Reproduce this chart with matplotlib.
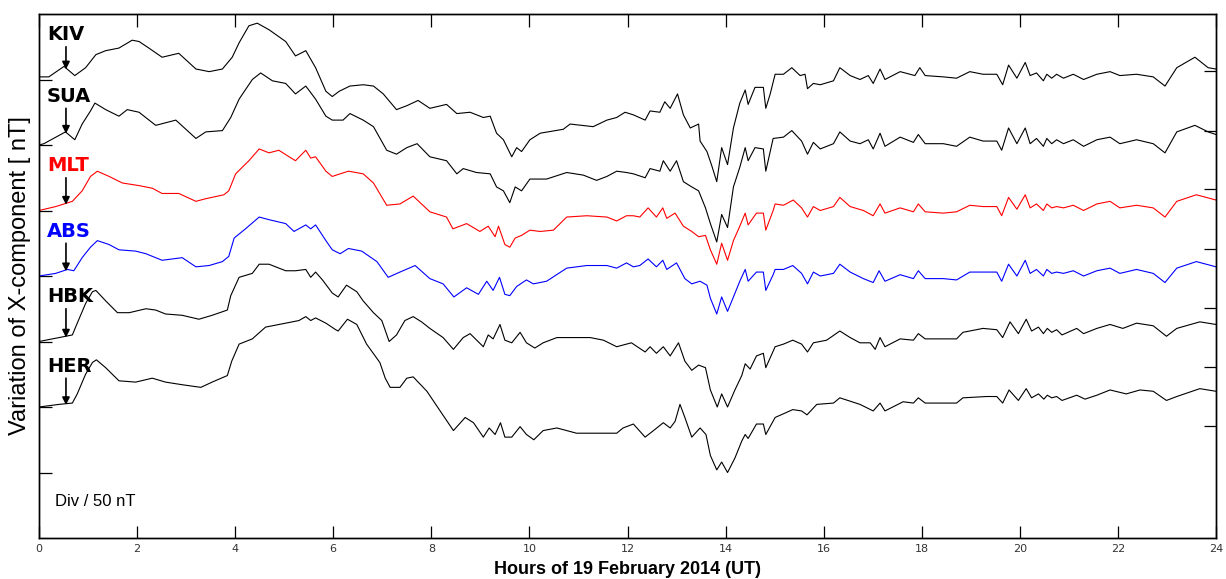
import numpy as np
import matplotlib
matplotlib.use("Agg")
import matplotlib.pyplot as plt

# ---------------- data (nT deviation from each station's baseline) ----------------
stations = ["KIV", "SUA", "MLT", "ABS", "HBK", "HER"]
baselines = [350, 300, 250, 200, 150, 100]          # nT offsets (Div / 50 nT)
colors = ["black", "black", "red", "blue", "black", "black"]

kiv_h = [0, 0.2, 0.51, 0.73, 0.95, 1.16, 1.36, 1.63, 1.9, 2.04, 2.24, 2.51, 2.85, 3.2, 3.47, 3.74, 3.94,
         4.08, 4.28, 4.45, 4.69, 5.03, 5.23, 5.44, 5.64, 5.85, 5.98, 6.12, 6.34, 6.61, 6.82, 7.02, 7.29,
         7.5, 7.73, 7.97, 8.31, 8.52, 8.79, 9.06, 9.2, 9.33, 9.47, 9.64, 9.74, 9.84, 10.01, 10.22, 10.69,
         10.83, 11.3, 11.58, 11.78, 11.95, 12.12, 12.36, 12.46, 12.66, 12.76, 12.87, 13.02, 13.14, 13.28,
         13.45, 13.48, 13.62, 13.72, 13.82, 13.92, 14.04, 14.16, 14.29, 14.4, 14.46, 14.6, 14.77, 14.82,
         14.91, 15.01, 15.18, 15.35, 15.52, 15.62, 15.67, 15.79, 15.93, 16.2, 16.33, 16.54, 16.74, 16.91,
         17.01, 17.15, 17.25, 17.56, 17.86, 17.96, 18.07, 18.44, 18.71, 18.98, 19.25, 19.53, 19.65, 19.77,
         19.94, 20.11, 20.21, 20.34, 20.48, 20.55, 20.65, 20.75, 20.89, 21.09, 21.3, 21.57, 21.84, 22.04,
         22.38, 22.72, 22.96, 23.2, 23.57, 23.84, 24]
kiv_v = [2, 2, 10, 3, 9, 19, 22, 24, 30, 29, 24, 17, 20, 8, 6, 8, 17,
         28, 41, 43, 38, 29, 18, 22, 9, -9, -13, -9, -5, -4, -5, -11, -23,
         -20, -16, -22, -19, -26, -25, -29, -28, -41, -46, -59, -52, -55, -46, -41, -38,
         -34, -36, -31, -29, -25, -27, -31, -24, -25, -17, -22, -11, -27, -37,
         -34, -47, -55, -66, -78, -52, -65, -37, -18, -8, -19, -6, -6, -22,
         -11, 4, 4, 9, 3, 4, -7, -3, -4, -1, 9, 3, 0, 3,
         -3, 8, 0, 6, 3, 9, 3, 2, 1, 6, 4, 4, -4, 11,
         1, 13, 3, 5, -1, 4, 1, 4, 1, 4, 0, 4, 6, 3,
         4, 2, -5, 9, 17, 9, 8]

sua_h = [0, 0.1, 0.54, 0.73, 0.88, 1.05, 1.14, 1.36, 1.63, 1.8, 2.04, 2.38, 2.79, 3.2, 3.4, 3.74, 3.91,
         4.08, 4.35, 4.52, 4.76, 5.03, 5.23, 5.44, 5.64, 5.85, 5.98, 6.2, 6.34, 6.61, 6.82, 7.09, 7.29,
         7.5, 7.71, 7.97, 8.31, 8.52, 8.65, 8.92, 9.2, 9.33, 9.47, 9.6, 9.71, 9.84, 10.01, 10.35, 10.76,
         11.1, 11.37, 11.58, 11.78, 11.98, 12.12, 12.36, 12.46, 12.66, 12.73, 12.87, 13.0, 13.14, 13.31,
         13.45, 13.59, 13.69, 13.82, 13.92, 14.04, 14.16, 14.29, 14.4, 14.46, 14.6, 14.77, 14.82, 14.97,
         15.18, 15.35, 15.55, 15.67, 15.79, 15.93, 16.2, 16.33, 16.54, 16.74, 16.91, 17.01, 17.15, 17.25,
         17.56, 17.83, 17.93, 18.07, 18.44, 18.71, 18.98, 19.25, 19.53, 19.63, 19.77, 19.94, 20.11, 20.21,
         20.34, 20.48, 20.55, 20.65, 20.75, 20.89, 21.09, 21.3, 21.57, 21.84, 22.04, 22.38, 22.72, 22.96,
         23.2, 23.57, 23.84, 24]
sua_v = [0, 1, 10, 4, 16, 26, 32, 27, 22, 27, 25, 15, 19, 5, 10, 11, 21,
         35, 50, 55, 49, 47, 39, 45, 35, 22, 19, 19, 24, 19, 14, -4, -7,
         -2, 1, -9, -12, -22, -18, -21, -22, -32, -35, -44, -32, -35, -26, -26, -21,
         -23, -27, -24, -20, -21, -22, -25, -18, -20, -12, -20, -12, -28, -32,
         -35, -48, -60, -74, -53, -63, -32, -17, -2, -12, -2, -3, -20, 5,
         6, 11, 3, -7, 2, -3, 1, 10, 3, 1, 4, -3, 9, -1,
         6, 2, 8, 1, 1, -1, 6, 3, 3, -4, 13, 1, 13, 1,
         5, -1, 5, 1, 4, 1, 4, -1, 4, 6, 1, 4, 1, -6,
         10, 15, 10, 8]

mlt_h = [0, 0.34, 0.68, 0.88, 1.05, 1.19, 1.43, 1.7, 2.04, 2.31, 2.51, 2.85, 3.2, 3.4, 3.77, 3.87, 4.01,
         4.28, 4.49, 4.69, 4.89, 5.1, 5.23, 5.44, 5.54, 5.64, 5.85, 5.98, 6.14, 6.31, 6.61, 6.82, 7.09,
         7.36, 7.63, 7.97, 8.31, 8.44, 8.72, 8.99, 9.16, 9.3, 9.37, 9.5, 9.6, 9.71, 9.84, 10.01, 10.22,
         10.49, 10.76, 11.17, 11.58, 11.78, 11.98, 12.12, 12.25, 12.42, 12.59, 12.72, 12.8, 12.97, 13.14,
         13.31, 13.45, 13.59, 13.69, 13.82, 13.92, 14.04, 14.16, 14.29, 14.4, 14.46, 14.63, 14.77, 14.82,
         14.97, 15.01, 15.18, 15.38, 15.55, 15.67, 15.79, 15.93, 16.2, 16.33, 16.54, 16.81, 17.01, 17.15,
         17.25, 17.56, 17.83, 17.93, 18.07, 18.44, 18.71, 18.98, 19.25, 19.53, 19.63, 19.77, 19.94, 20.11,
         20.21, 20.34, 20.48, 20.55, 20.65, 20.75, 20.89, 21.09, 21.3, 21.57, 21.84, 22.04, 22.38, 22.72,
         22.96, 23.2, 23.6, 24]
mlt_v = [0, 3, 7, 15, 26, 30, 26, 21, 19, 17, 13, 13, 7, 9, 12, 15, 28,
         38, 47, 44, 46, 41, 38, 46, 40, 41, 30, 26, 28, 30, 28, 21, 4,
         5, 11, -1, -5, -14, -10, -16, -12, -20, -12, -26, -28, -21, -19, -15, -16,
         -15, -5, -4, -5, -8, -4, -4, -5, 2, -5, 2, -6, -2, -12,
         -16, -20, -19, -30, -41, -25, -38, -23, -12, -2, -11, -2, -2, -15,
         0, 5, 4, 8, 2, -5, 3, 0, 3, 10, 3, 0, -4, 5,
         -2, 2, -1, 5, -1, -2, -1, 4, 3, 3, -4, 10, 1, 12,
         2, 5, 0, 5, 2, 3, 2, 4, 0, 5, 7, 2, 4, 2,
         -5, 7, 12, 8]

abs_h = [0, 0.34, 0.58, 0.71, 0.88, 1.05, 1.19, 1.43, 1.63, 1.97, 2.18, 2.51, 2.92, 3.2, 3.47, 3.74, 3.87,
         3.98, 4.21, 4.49, 4.69, 5.03, 5.2, 5.44, 5.54, 5.64, 5.85, 5.98, 6.14, 6.31, 6.58, 6.89, 7.12,
         7.36, 7.67, 7.97, 8.24, 8.46, 8.72, 8.96, 9.13, 9.26, 9.39, 9.5, 9.6, 9.74, 9.94, 10.08, 10.35,
         10.76, 11.17, 11.58, 11.78, 11.98, 12.12, 12.25, 12.42, 12.59, 12.72, 12.8, 13.0, 13.17, 13.31,
         13.48, 13.62, 13.69, 13.82, 13.92, 14.04, 14.16, 14.29, 14.4, 14.46, 14.63, 14.77, 14.82, 14.97,
         15.01, 15.18, 15.37, 15.55, 15.67, 15.79, 15.93, 16.2, 16.33, 16.54, 16.81, 17.01, 17.13, 17.25,
         17.56, 17.83, 17.93, 18.07, 18.44, 18.71, 18.98, 19.25, 19.53, 19.63, 19.77, 19.94, 20.11, 20.21,
         20.34, 20.48, 20.55, 20.65, 20.75, 20.89, 21.09, 21.3, 21.57, 21.84, 22.04, 22.38, 22.72, 22.96,
         23.2, 23.6, 24]
abs_v = [0, 2, 5, 4, 14, 22, 27, 24, 20, 19, 17, 12, 14, 7, 8, 11, 15,
         29, 36, 45, 43, 40, 34, 39, 36, 39, 27, 20, 17, 21, 19, 11, -1,
         3, 8, -2, -6, -16, -9, -14, -4, -11, -1, -14, -15, -8, -3, -6, -4,
         6, 8, 8, 6, 10, 7, 8, 13, 7, 12, 5, 10, -2, -6,
         -4, -7, -17, -29, -16, -27, -16, -4, 5, -4, 3, 3, -11, 1,
         5, 5, 8, 2, -6, 3, 0, 2, 9, 3, -2, -5, 4, -4,
         1, -2, 4, -2, -2, -3, 3, 3, 3, -4, 9, 0, 12, 2,
         5, 0, 5, 2, 3, 2, 4, 0, 4, 6, 2, 5, 2, -5,
         6, 11, 7]

hbk_h = [0, 0.41, 0.68, 0.78, 0.95, 1.09, 1.16, 1.36, 1.6, 1.84, 2.18, 2.38, 2.58, 2.92, 3.26, 3.53, 3.84,
         3.91, 4.08, 4.35, 4.49, 4.69, 5.03, 5.23, 5.44, 5.54, 5.64, 5.78, 5.98, 6.1, 6.27, 6.48, 6.61,
         6.82, 6.99, 7.14, 7.29, 7.46, 7.63, 7.8, 7.97, 8.24, 8.45, 8.65, 8.79, 9.06, 9.16, 9.26, 9.4,
         9.5, 9.64, 9.81, 9.94, 10.11, 10.28, 10.56, 10.83, 11.24, 11.51, 11.78, 12.08, 12.36, 12.46,
         12.59, 12.73, 12.87, 13.04, 13.17, 13.31, 13.45, 13.59, 13.69, 13.83, 13.92, 14.04, 14.19, 14.33,
         14.4, 14.5, 14.63, 14.77, 14.82, 15.01, 15.18, 15.37, 15.55, 15.67, 15.79, 16.06, 16.33, 16.54,
         16.74, 16.95, 17.05, 17.15, 17.25, 17.56, 17.83, 17.93, 18.07, 18.44, 18.71, 18.84, 19.25, 19.53,
         19.65, 19.8, 19.97, 20.13, 20.24, 20.38, 20.48, 20.56, 20.65, 20.75, 20.86, 21.16, 21.3, 21.57,
         21.84, 22.1, 22.38, 22.72, 22.99, 23.2, 23.67, 24]
hbk_v = [0, 3, 5, 14, 29, 38, 39, 31, 22, 22, 25, 24, 21, 20, 17, 20, 24,
         35, 49, 52, 59, 59, 54, 54, 55, 49, 53, 47, 37, 34, 43, 38, 31,
         22, 16, 0, 5, 16, 19, 15, 10, 3, -6, 3, 6, -4, 5, 2, 13,
         1, -1, 7, -1, -5, -1, 3, 3, 3, 1, -4, -1, -8, -4,
         -9, -4, -11, -1, -15, -22, -18, -20, -37, -50, -40, -50, -37, -26,
         -17, -21, -11, -9, -20, -4, -2, 1, -2, -8, -1, 1, 8, 3,
         -1, -1, -6, 3, -4, 2, 1, 6, 2, 2, 2, 7, 10, 9,
         3, 15, 6, 17, 8, 11, 6, 10, 7, 9, 5, 10, 6, 10,
         13, 10, 14, 12, 4, 10, 15, 13]

her_h = [0, 0.41, 0.68, 0.78, 0.95, 1.09, 1.17, 1.36, 1.63, 1.97, 2.31, 2.58, 2.92, 3.3, 3.53, 3.84, 3.93,
         4.08, 4.35, 4.62, 5.03, 5.3, 5.44, 5.54, 5.64, 5.85, 6.05, 6.1, 6.29, 6.48, 6.68, 6.95, 7.06,
         7.16, 7.36, 7.5, 7.63, 7.91, 8.18, 8.45, 8.69, 8.86, 9.06, 9.18, 9.3, 9.41, 9.5, 9.64, 9.81,
         9.94, 10.09, 10.28, 10.56, 10.96, 11.37, 11.78, 11.91, 12.12, 12.36, 12.53, 12.73, 12.87, 12.97,
         13.07, 13.17, 13.31, 13.48, 13.6, 13.69, 13.82, 13.92, 14.04, 14.19, 14.33, 14.4, 14.46, 14.63,
         14.77, 14.82, 15.01, 15.37, 15.55, 15.66, 15.86, 16.2, 16.33, 16.74, 17.01, 17.15, 17.25, 17.62,
         17.83, 17.93, 18.07, 18.44, 18.71, 18.84, 19.32, 19.53, 19.65, 19.78, 19.97, 20.13, 20.24, 20.38,
         20.49, 20.56, 20.65, 20.75, 20.86, 21.16, 21.33, 21.57, 21.84, 22.17, 22.45, 22.72, 22.99, 23.2,
         23.67, 24]
her_v = [0, 2, 3, 10, 25, 34, 36, 30, 20, 19, 22, 19, 17, 15, 19, 24, 35,
         48, 52, 61, 64, 66, 69, 66, 68, 64, 59, 58, 67, 63, 48, 34, 22,
         15, 15, 22, 23, 12, -3, -18, -8, -12, -23, -16, -21, -12, -23, -23, -15,
         -21, -25, -18, -16, -20, -20, -20, -16, -13, -23, -18, -12, -16, -11,
         2, -8, -23, -16, -21, -37, -48, -42, -50, -39, -26, -21, -24, -13,
         -13, -21, -8, -2, -3, -6, 2, 3, 7, 2, -3, 3, -3, 4,
         3, 7, 3, 3, 3, 7, 8, 8, 3, 13, 5, 14, 7, 10,
         6, 9, 7, 8, 5, 9, 6, 9, 13, 10, 13, 12, 5, 8,
         14, 12]

hours_list = [kiv_h, sua_h, mlt_h, abs_h, hbk_h, her_h]
values_list = [kiv_v, sua_v, mlt_v, abs_v, hbk_v, her_v]

x_ticks = list(range(0, 25, 2))
left_ticks = [50, 100, 150, 200, 250, 300, 350]
right_ticks = [85.5, 130.5, 175.6, 220.6, 266.4, 310.7, 356.5]

# ---------------- figure ----------------
fig = plt.figure(figsize=(12.26, 5.79), dpi=100)
ax = fig.add_axes([39 / 1226, 41 / 579, (1216 - 39) / 1226, (538 - 14) / 579])

label_dy = [34, 37, 34, 34, 34, 31]
for name, base, col, hh, vv, dy in zip(stations, baselines, colors, hours_list, values_list, label_dy):
    hh = np.asarray(hh, float)
    vv = np.asarray(vv, float) + base
    ax.plot(hh, vv, color=col, lw=0.8)
    ax.text(0.16, base + dy, name, color=col, fontsize=14, fontweight="bold",
            va="center", ha="left", family="DejaVu Sans")
    tip = np.interp(0.55, hh, vv) - 1
    ax.annotate("", xy=(0.55, tip), xytext=(0.55, base + dy - 9),
                arrowprops=dict(arrowstyle="-|>", color="black", lw=1.2,
                                mutation_scale=11, shrinkA=0, shrinkB=0))

ax.text(0.33, 28, "Div / 50 nT", fontsize=12, va="center", ha="left", family="Liberation Sans")

ax.set_xlim(0, 24)
ax.set_ylim(0, 400)
ax.set_xticks(x_ticks)
ax.set_xticklabels([str(t) for t in x_ticks], fontsize=8, color="#333333")
ax.set_yticks(left_ticks)
ax.set_yticklabels([])
ax.tick_params(axis="x", direction="in", length=9, width=0.9, top=True, pad=4)
ax.tick_params(axis="y", direction="in", length=9, width=0.9, left=True, right=False)

ax2 = ax.twinx()
ax2.set_ylim(0, 400)
ax2.set_yticks(right_ticks)
ax2.set_yticklabels([])
ax2.tick_params(axis="y", direction="in", length=9, width=0.9, right=True)

for a in (ax, ax2):
    for sp in a.spines.values():
        sp.set_linewidth(1.0)

ax.set_xlabel("Hours of 19 February 2014 (UT)", fontsize=13, fontweight="bold", labelpad=5,
              family="Liberation Sans")
ax.set_ylabel("Variation of X-component [ nT]", fontsize=17, family="Liberation Sans", va="center")
ax.yaxis.set_label_coords(-0.016, 0.5)

fig.savefig("out.png", dpi=100)
